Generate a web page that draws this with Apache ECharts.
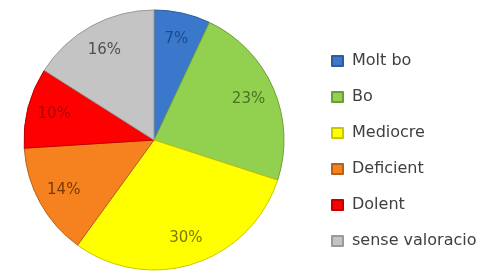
<!DOCTYPE html>
<html>
<head>
<meta charset="utf-8">
<script src="https://cdn.jsdelivr.net/npm/echarts@6/dist/echarts.min.js"></script>
<style>
  html, body { margin: 0; padding: 0; background: #fff; }
  #main { width: 498px; height: 274px; }
</style>
</head>
<body>
<div id="main"></div>
<script>
  // dades del gràfic
  var categories = ['Molt bo', 'Bo', 'Mediocre', 'Deficient', 'Dolent', 'sense valoracio'];
  var values = [7, 23, 30, 14, 10, 16];
  var colors = ['#3a78cc', '#92d050', '#ffff00', '#f5821f', '#ff0000', '#c4c4c4'];
  var borders = ['#2c5c9c', '#6e9c3c', '#c8c800', '#b8601a', '#c00000', '#9a9a9a'];
  var labelColors = ['#1c4a8c', '#4a7420', '#7a7a00', '#7a3a00', '#b00000', '#505050'];

  var myChart = echarts.init(document.getElementById('main'));

  var cx = 154, cy = 140, labelR = 103;

  var option = {
      animation: false,
      legend: {
          orient: 'vertical',
          left: 326,
          top: 48,
          itemWidth: 11,
          itemHeight: 10,
          itemGap: 20,
          icon: 'rect',
          data: categories,
          textStyle: {
              fontFamily: 'DejaVu Sans',
              fontSize: 16,
              color: '#404040',
              padding: [0, 0, 0, 4]
          }
      },
      series: [
          {
              type: 'pie',
              center: [cx, cy],
              radius: 130,
              startAngle: 90,
              clockwise: true,
              data: categories.map(function (name, i) {
                  return {
                      name: name,
                      value: values[i],
                      itemStyle: { color: colors[i], borderColor: borders[i], borderWidth: 1 },
                      label: { color: labelColors[i] }
                  };
              }),
              label: {
                  position: 'inside',
                  formatter: '{d}%',
                  fontFamily: 'DejaVu Sans',
                  fontSize: 15
              },
              // etiquetes més a prop de la vora
              labelLayout: function (params) {
                  var r = params.labelRect;
                  var dx = r.x + r.width / 2 - cx;
                  var dy = r.y + r.height / 2 - cy;
                  var d = Math.sqrt(dx * dx + dy * dy) || 1;
                  return {
                      x: cx + dx / d * labelR,
                      y: cy + dy / d * labelR,
                      align: 'center',
                      verticalAlign: 'middle'
                  };
              },
              labelLine: { show: false },
              emphasis: { disabled: true }
          }
      ]
  };

  myChart.setOption(option);
</script>
</body>
</html>
